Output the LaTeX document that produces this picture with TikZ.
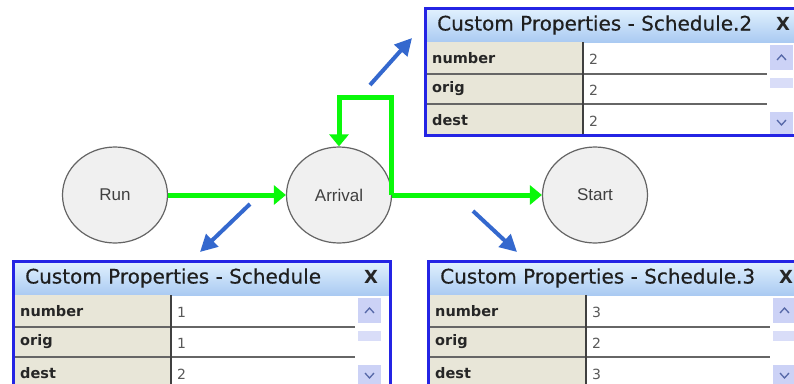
\documentclass[tikz,border=0pt]{standalone}
\usepackage{fontspec}
\setmainfont{DejaVu Sans}
\newfontfamily\circfont{Liberation Sans}
\newfontfamily\titlefont[FakeBold=0.4]{DejaVu Sans}
\usetikzlibrary{shapes.geometric,arrows.meta}

\definecolor{flowgreen}{RGB}{10,248,10}
\definecolor{pointblue}{RGB}{52,104,206}
\definecolor{winblue}{RGB}{36,36,228}
\definecolor{titletop}{RGB}{226,242,254}
\definecolor{titlebot}{RGB}{170,202,242}
\definecolor{labelbg}{RGB}{232,230,216}
\definecolor{circfill}{RGB}{240,240,240}
\definecolor{circline}{RGB}{100,100,100}
\definecolor{scrollbg}{RGB}{204,210,246}
\definecolor{chevron}{RGB}{86,104,168}

\tikzset{
  stepnode/.style={ellipse, draw=circline, line width=1.2pt, fill=circfill,
    minimum width=105pt, minimum height=96pt, inner sep=0pt,
    font=\circfont\fontsize{17}{17}\selectfont, text=black!75},
  flow/.style={draw=flowgreen, line width=5pt,
    -{Triangle[length=12pt,width=19pt]}},
  pointer/.style={draw=pointblue, line width=4pt,
    -{Triangle[length=17pt,width=17pt]}},
  winborder/.style={draw=winblue, line width=3pt},
  rowsep/.style={draw=black!60, line width=1.6pt},
  colsep/.style={draw=black!75, line width=1.4pt},
  chev/.style={draw=chevron, line width=1.3pt},
  wintitle/.style={anchor=west, inner sep=0pt,
    font=\titlefont\fontsize{20}{20}\selectfont, text=black!88},
  winclose/.style={inner sep=0pt, font=\bfseries\fontsize{18}{18}\selectfont,
    text=black!85},
  rowlabel/.style={anchor=west, inner sep=0pt,
    font=\bfseries\fontsize{14.5}{15}\selectfont, text=black!85},
  rowvalue/.style={anchor=west, inner sep=0pt,
    font=\fontsize{14}{14}\selectfont, text=black!65},
}

% Property window: #1 name, #2/#3 top-left corner, #4 title, #5-#7 values
\newcommand\propwin[7]{%
\begin{scope}[shift={(#2,#3)}]
  \fill[white] (0,0) rectangle (377,127);
  \shade[top color=titletop, bottom color=titlebot] (0,0) rectangle (377,34);
  \fill[labelbg] (0,34) rectangle (158,127);
  \draw[rowsep] (0,66) -- (342,66);
  \draw[rowsep] (0,96) -- (342,96);
  \draw[colsep] (158,34) -- (158,127);
  % scrollbar
  \fill[scrollbg] (345,37) rectangle (368,62);
  \fill[scrollbg!75] (345,70) rectangle (368,80);
  \fill[scrollbg] (345,104) rectangle (368,126);
  \draw[chev] (352,52) -- (356.5,47) -- (361,52);
  \draw[chev] (352,112) -- (356.5,117) -- (361,112);
  % texts
  \node[wintitle] (#1-title) at (12,17) {#4};
  \node[winclose] (#1-close) at (358,16) {X};
  \node[rowlabel] (#1-l1) at (7,50) {number};
  \node[rowlabel] (#1-l2) at (7,81) {orig};
  \node[rowlabel] (#1-l3) at (7,112) {dest};
  \node[rowvalue] (#1-v1) at (164,51) {#5};
  \node[rowvalue] (#1-v2) at (164,82) {#6};
  \node[rowvalue] (#1-v3) at (164,113) {#7};
  \draw[winborder] (0,0) rectangle (377,127);
\end{scope}}

\begin{document}
\begin{tikzpicture}[x=1pt, y=-1pt]
  \useasboundingbox (0,0) rectangle (794,383);
  \clip (0,0) rectangle (794,383);
  \fill[white] (0,0) rectangle (794,383);

  % process steps
  \node[stepnode] (run) at (115,195) {Run};
  \node[stepnode] (arrival) at (339,195) {Arrival};
  \node[stepnode] (start) at (595,195) {Start};

  % flow connectors
  \draw[flow] (run) -- (arrival);
  \draw[flow] (arrival.east) -- (start.west);
  \draw[flow] ([xshift=-1pt]arrival.east) -- ++(0,-98) -| (arrival.north);

  % property windows
  \propwin{sched2}{425}{8}{Custom Properties - Schedule.2}{2}{2}{2}
  \propwin{sched1}{13}{261}{Custom Properties - Schedule}{1}{1}{2}
  \propwin{sched3}{428}{261}{Custom Properties - Schedule.3}{3}{2}{3}

  % pointers from the flow to the windows
  \coordinate (p1s) at (370,85);
  \coordinate (p1e) at (412,38);
  \coordinate (p2s) at (250,204);
  \coordinate (p2e) at (200,252);
  \coordinate (p3s) at (473,211);
  \coordinate (p3e) at (517,252);
  \draw[pointer] (p1s) -- (p1e);
  \draw[pointer] (p2s) -- (p2e);
  \draw[pointer] (p3s) -- (p3e);
\end{tikzpicture}
\end{document}
